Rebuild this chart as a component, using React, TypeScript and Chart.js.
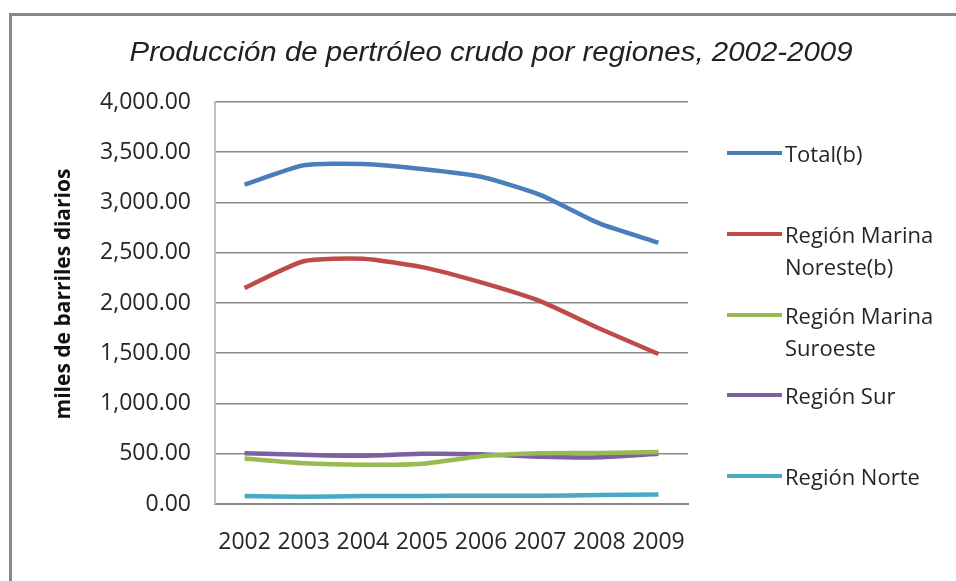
import React, { useEffect, useRef } from "react";
import { Chart, registerables } from "chart.js";

Chart.register(...registerables);

const TITLE = "Producción de pertróleo crudo por regiones, 2002-2009";
const Y_TITLE = "miles de barriles diarios";
const YEARS = ["2002", "2003", "2004", "2005", "2006", "2007", "2008", "2009"];
const Y_TICKS = [0, 500, 1000, 1500, 2000, 2500, 3000, 3500, 4000];

const TOTAL = [3177, 3371, 3383, 3333, 3256, 3076, 2792, 2601];
const MARINA_NORESTE = [2151, 2416, 2441, 2357, 2205, 2018, 1746, 1493];
const MARINA_SUROESTE = [452, 405, 390, 400, 475, 505, 507, 518];
const SUR = [505, 490, 480, 500, 495, 470, 465, 500];
const NORTE = [80, 72, 80, 80, 82, 82, 90, 95];

const SERIES_NAMES = [
  ["Total(b)"],
  ["Región Marina", "Noreste(b)"],
  ["Región Marina", "Suroeste"],
  ["Región Sur"],
  ["Región Norte"],
];
const SERIES_DATA = [TOTAL, MARINA_NORESTE, MARINA_SUROESTE, SUR, NORTE];
const COLORS = ["#4a7ebb", "#be4b48", "#98b954", "#7d60a0", "#46aac5"];

const LEGEND_Y = [153, 234, 315, 395, 476];

const TEXT_COLOR = "#262626";
const FONT = "'Open Sans', 'Liberation Sans', sans-serif";

function fmt(v: number) {
  return v.toLocaleString("en-US", { minimumFractionDigits: 2, maximumFractionDigits: 2 });
}

export default function App() {
  const canvasRef = useRef<HTMLCanvasElement | null>(null);
  const titleRef = useRef<HTMLSpanElement | null>(null);

  useEffect(() => {
    document.body.style.margin = "0";
    const t = titleRef.current;
    if (t) {
      const w = t.offsetWidth;
      if (w > 0) t.style.transform = `scaleX(${723 / w})`;
    }
    const canvas = canvasRef.current;
    if (!canvas) return;
    const chart = new Chart(canvas, {
      type: "line",
      data: {
        labels: YEARS,
        datasets: SERIES_DATA.map((d, i) => ({
          label: SERIES_NAMES[i].join(" "),
          data: d,
          borderColor: COLORS[i],
          backgroundColor: COLORS[i],
          borderWidth: 4.5,
          pointRadius: 0,
          tension: 0.2,
          fill: false,
        })),
      },
      options: {
        responsive: false,
        animation: false,
        layout: { padding: { top: 102, right: 268, bottom: 0, left: 0 } },
        plugins: { legend: { display: false }, title: { display: false }, tooltip: { enabled: false } },
        scales: {
          x: {
            type: "category",
            offset: true,
            grid: { display: false, drawTicks: false },
            border: { display: true, color: "#888888", width: 2 },
            ticks: {
              color: TEXT_COLOR,
              font: { family: FONT, size: 23 },
              padding: 25,
              maxRotation: 0,
              autoSkip: false,
            },
            afterFit: (s: any) => {
              s.height = 77;
            },
          },
          y: {
            min: 0,
            max: 4000,
            afterBuildTicks: (s: any) => {
              s.ticks = Y_TICKS.map((v) => ({ value: v }));
            },
            grid: { color: "#8a8a8a", lineWidth: 1.6, drawTicks: false },
            border: { display: true, color: "#c0c0c0", width: 2 },
            ticks: {
              color: TEXT_COLOR,
              font: { family: FONT, size: 23 },
              padding: 24,
              callback: (v: any) => fmt(Number(v)),
            },
            afterFit: (s: any) => {
              s.width = 215;
            },
          },
        },
      },
    });
    return () => chart.destroy();
  }, []);

  return (
    <div style={{ position: "relative", width: 956, height: 581, overflow: "hidden", background: "#fff" }}>
      <canvas ref={canvasRef} width={956} height={581} style={{ position: "absolute", left: 0, top: 0, width: 956, height: 581 }} />
      <div
        style={{
          position: "absolute",
          left: 9,
          top: 13,
          width: 1200,
          height: 1000,
          border: "3px solid #888888",
          boxSizing: "border-box",
          pointerEvents: "none",
        }}
      />
      <div
        style={{
          position: "absolute",
          left: 0,
          top: 38,
          width: 983,
          textAlign: "center",
          lineHeight: "28px",
          whiteSpace: "nowrap",
        }}
      >
        <span
          ref={titleRef}
          style={{
            display: "inline-block",
            fontFamily: "'Liberation Sans Narrow', 'Arial Narrow', 'Liberation Sans', sans-serif",
            fontStyle: "italic",
            fontSize: 28,
            color: "#222",
            transformOrigin: "center",
          }}
        >
          {TITLE}
        </span>
      </div>
      <div
        style={{
          position: "absolute",
          left: 62 - 150,
          top: 294 - 14,
          width: 300,
          height: 28,
          lineHeight: "28px",
          textAlign: "center",
          transform: "rotate(-90deg)",
          fontFamily: FONT,
          fontWeight: 700,
          fontSize: 21,
          color: "#111",
          whiteSpace: "nowrap",
        }}
      >
        {Y_TITLE}
      </div>
      {SERIES_NAMES.map((lines, i) => (
        <React.Fragment key={i}>
          <div
            style={{
              position: "absolute",
              left: 727,
              top: LEGEND_Y[i] - 2,
              width: 55,
              height: 4,
              background: COLORS[i],
            }}
          />
          <div
            style={{
              position: "absolute",
              left: 785,
              top: LEGEND_Y[i] - 16,
              fontFamily: FONT,
              fontSize: 22,
              lineHeight: "32px",
              color: TEXT_COLOR,
              whiteSpace: "nowrap",
            }}
          >
            {lines.map((l, j) => (
              <div key={j}>{l}</div>
            ))}
          </div>
        </React.Fragment>
      ))}
    </div>
  );
}
